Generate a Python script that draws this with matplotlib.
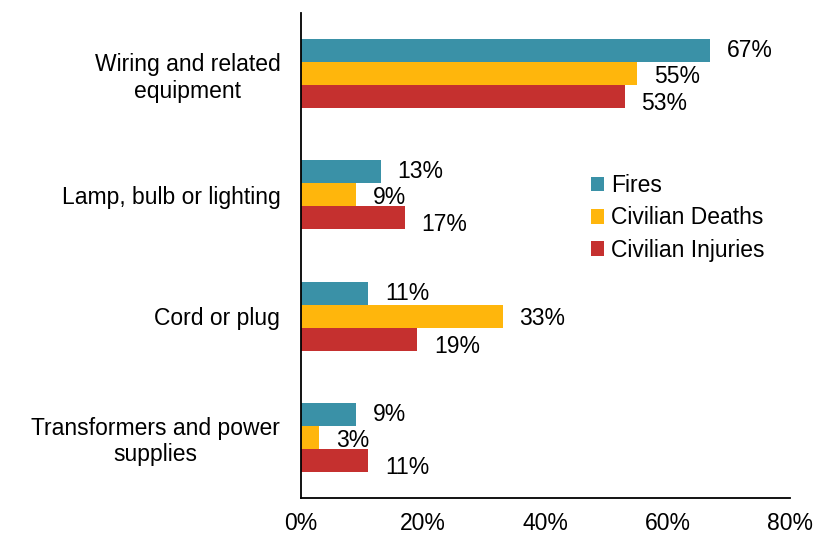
import matplotlib.pyplot as plt
import numpy as np

plt.rcParams['font.family'] = ['Liberation Sans', 'DejaVu Sans']

categories = ['Wiring and related\nequipment', 'Lamp, bulb or lighting',
              'Cord or plug', 'Transformers and power\nsupplies']
fires = [67, 13, 11, 9]
deaths = [55, 9, 33, 3]
injuries = [53, 17, 19, 11]
series = ['Fires', 'Civilian Deaths', 'Civilian Injuries']
colors = ['#3a91a7', '#ffb60c', '#c5302f']

fig = plt.figure(figsize=(8.16, 5.38), dpi=100)
ax = fig.add_axes([0.369, 0.0743, 0.599, 0.9017])

y = np.arange(len(categories))
h = 0.19
fs = 16.5
for i, (vals, name, c) in enumerate(zip([fires, deaths, injuries], series, colors)):
    pos = y + (i - 1) * h
    ax.barh(pos, vals, height=h, color=c, label=name)
    dy = [0, -2, -5][i]
    for p, v in zip(pos, vals):
        ax.annotate(f'{v}%', (v, p), xytext=(12, dy), textcoords='offset points',
                    ha='left', va='center', fontsize=fs)

ax.set_ylim(len(categories) - 0.5, -0.5)
ax.set_xlim(0, 80)
ax.set_xticks([0, 20, 40, 60, 80])
ax.set_xticklabels([f'{t}%' for t in [0, 20, 40, 60, 80]])
ax.set_yticks(y)
ax.set_yticklabels(categories)
for t in ax.get_yticklabels():
    t.set_multialignment('center')
ax.tick_params(axis='both', length=0, labelsize=fs)
ax.tick_params(axis='y', pad=15)
ax.tick_params(axis='x', pad=10)
for s in ['top', 'right']:
    ax.spines[s].set_visible(False)
for s in ['left', 'bottom']:
    ax.spines[s].set_linewidth(1.3)

ax.legend(loc='upper left', bbox_to_anchor=(0.55, 0.71), frameon=False,
          fontsize=fs, handlelength=0.6, handleheight=0.6, handletextpad=0.3,
          labelspacing=0.4)

fig.savefig('out.png', dpi=100)
